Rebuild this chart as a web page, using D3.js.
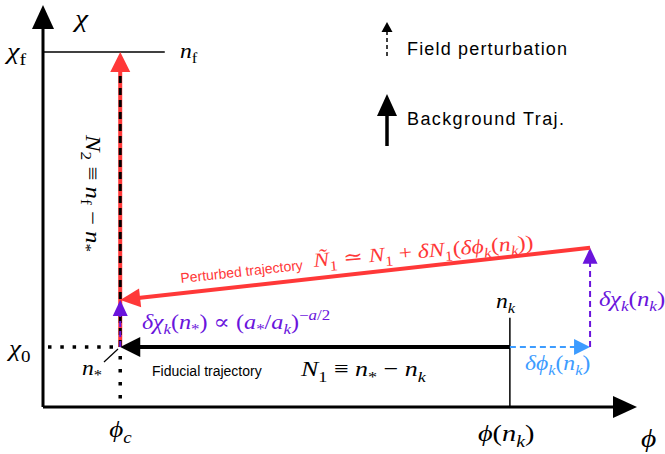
<!DOCTYPE html>
<html>
<head>
<meta charset="utf-8">
<script src="https://cdn.jsdelivr.net/npm/d3@7"></script>
<style>
body{margin:0;background:#fff}
svg{display:block}
</style>
</head>
<body>
<div class="canvas"></div>
<script>
const W = 665, H = 454;
const RED = "#ff3838", PURPLE = "#6a14dc", BLUE = "#3d9cff";

// abstract (phi, chi) coordinates of the diagram
const xTickVals = [1.3, 7.86];
const xTickLabels = ["ϕ_{c}", "ϕ(n_{k})"];
const yTickVals = [1.49, 8.83];
const yTickLabels = ["χ_{0}", "χ_{!f}"];
const fiducial = [[7.86, 1.49], [1.3, 1.49]];
const background = [[1.3, 1.49], [1.3, 8.83]];
const kickPhi = [[7.86, 1.49], [9.21, 1.49]];
const kickChi = [[9.21, 1.49], [9.21, 3.96]];
const kickStar = [[1.3, 1.49], [1.3, 2.66]];
const perturbed = [[9.21, 3.96], [1.3, 2.66]];
const nfLine = [[0, 8.83], [2.05, 8.83]];
const nkTick = [[7.86, 0], [7.86, 2.22]];

const x = d3.scaleLinear().domain([0, 10]).range([43, 637]);
const y = d3.scaleLinear().domain([0, 10]).range([407, 5]);

const svg = d3.select(".canvas").append("svg")
  .attr("width", W).attr("height", H);

const MATH = "'Liberation Serif','DejaVu Serif',serif";
const SANS = "'Liberation Sans',Arial,sans-serif";
const SX = 1.18; // widen Times to look like Computer Modern

// tiny tex-ish renderer: _{..} subscript, ^{..} superscript, letters italic, !c upright
function tex(g, str, px, py, fs, color, rot) {
  const chars = [];
  let i = 0, lv = 0, end = -1;
  while (i < str.length) {
    const c = str[i];
    if ((c === "_" || c === "^") && str[i + 1] === "{") {
      lv = c === "_" ? -1 : 1; end = str.indexOf("}", i); i += 2; continue;
    }
    if (i === end) { lv = 0; end = -1; i++; continue; }
    if (c === "!") { chars.push({ch: str[i + 1], lv, up: true}); i += 2; continue; }
    chars.push({ch: c, lv}); i++;
  }
  const runs = [];
  chars.forEach(c => {
    const it = !c.up && /[A-Za-zα-ωϕÑ]/.test(c.ch);
    const last = runs[runs.length - 1];
    if (last && last.lv === c.lv && last.it === it) last.t += c.ch;
    else runs.push({t: c.ch, lv: c.lv, it});
  });
  const t = g.append("text")
    .attr("transform", `translate(${px},${py})` + (rot ? ` rotate(${rot})` : "") + ` scale(${SX},1)`)
    .attr("font-family", MATH).attr("font-size", fs).attr("fill", color);
  let cur = 0;
  runs.forEach(r => {
    const target = r.lv === -1 ? fs * 0.25 : r.lv === 1 ? -fs * 0.42 : 0;
    t.append("tspan")
      .attr("dy", target - cur)
      .attr("font-size", r.lv ? fs * 0.7 : fs)
      .attr("font-style", r.it ? "italic" : "normal")
      .text(r.t);
    cur = target;
  });
  return t;
}

function seg(pts, color, w, dash) {
  return svg.append("line")
    .attr("x1", x(pts[0][0])).attr("y1", y(pts[0][1]))
    .attr("x2", x(pts[1][0])).attr("y2", y(pts[1][1]))
    .attr("stroke", color).attr("stroke-width", w)
    .attr("stroke-dasharray", dash || null);
}

// arrow: line from a to b, filled head at b
function arrow(pts, color, w, len, half, dash, gx) {
  const X = gx || (p => [x(p[0]), y(p[1])]);
  const [ax, ay] = X(pts[0]), [bx, by] = X(pts[1]);
  const dx = bx - ax, dy = by - ay, L = Math.hypot(dx, dy);
  const ux = dx / L, uy = dy / L;
  const cx = bx - ux * len, cy = by - uy * len;
  svg.append("line").attr("x1", ax).attr("y1", ay)
    .attr("x2", cx + ux * 2).attr("y2", cy + uy * 2)
    .attr("stroke", color).attr("stroke-width", w)
    .attr("stroke-dasharray", dash || null);
  svg.append("path")
    .attr("d", `M${bx},${by}L${cx - uy * half},${cy + ux * half}L${cx + uy * half},${cy - ux * half}Z`)
    .attr("fill", color);
}

// axes
arrow([[0, 0], [0, 10]], "#000", 3, 24, 11);
arrow([[0, 0], [10, 0]], "#000", 3, 24, 11);

// guide lines
seg(nfLine, "#000", 1.5);
seg(nkTick, "#000", 1.5);
svg.append("line").attr("x1", x(0) + 5).attr("y1", y(yTickVals[0]))
  .attr("x2", x(xTickVals[0])).attr("y2", y(yTickVals[0]))
  .attr("stroke", "#000").attr("stroke-width", 3.5).attr("stroke-dasharray", "3.5,8.8");
svg.append("line").attr("x1", x(xTickVals[0])).attr("y1", y(yTickVals[0]) + 9)
  .attr("x2", x(xTickVals[0])).attr("y2", y(0) - 2)
  .attr("stroke", "#000").attr("stroke-width", 3.5).attr("stroke-dasharray", "3.5,9.5");

// background trajectory (red with black dashes)
arrow(background, RED, 4, 20, 10);
svg.append("line")
  .attr("x1", x(background[0][0])).attr("y1", y(background[0][1]))
  .attr("x2", x(background[1][0])).attr("y2", y(background[1][1]) + 20)
  .attr("stroke", "#000").attr("stroke-width", 3).attr("stroke-dasharray", "7,5");

// fiducial
arrow(fiducial, "#000", 4, 20, 10);
// perturbations
arrow(kickPhi, BLUE, 2, 16, 8, "6,4");
arrow(kickChi, PURPLE, 2, 16, 7.5, "6,4");
arrow(kickStar, PURPLE, 2, 16, 7.5, "6,4");
// perturbed trajectory
arrow(perturbed, RED, 4, 20, 9.5);

// n_* pointer
svg.append("line").attr("x1", 104).attr("y1", 362).attr("x2", 118).attr("y2", 349)
  .attr("stroke", "#000").attr("stroke-width", 1.2);

// legend
const lg = p => p;
arrow([[387, 56], [387, 22]], "#000", 1.5, 10, 5.5, "4,3", lg);
arrow([[387, 146], [387, 94]], "#000", 3.5, 22, 10, null, lg);
svg.append("text").attr("x", 407).attr("y", 55).attr("font-family", SANS)
  .attr("font-size", 18).attr("textLength", 160).text("Field perturbation");
svg.append("text").attr("x", 407).attr("y", 125).attr("font-family", SANS)
  .attr("font-size", 18).attr("textLength", 157).text("Background Traj.");

// axis labels
tex(svg, "χ", 75, 27, 25, "#000");
tex(svg, "ϕ", 641, 447, 25, "#000");
tex(svg, yTickLabels[1], 7, 59, 24, "#000");
tex(svg, yTickLabels[0], 9, 356, 23, "#000");
tex(svg, xTickLabels[0], x(xTickVals[0]) - 11, 437, 23, "#000");
tex(svg, xTickLabels[1], x(xTickVals[1]) - 32, 441, 24, "#000");
tex(svg, "n_{!f}", 180, 58, 20, "#000");
tex(svg, "n_{k}", x(xTickVals[1]) - 14, 308, 20, "#000");
tex(svg, "n_{*}", 82, 375, 20, "#000");

// annotations
svg.append("text").attr("x", 152).attr("y", 376).attr("font-family", SANS)
  .attr("font-size", 14).text("Fiducial trajectory");
tex(svg, "N_{1} ≡ n_{*} − n_{k}", 301, 376, 22, "#000");
tex(svg, "δϕ_{k}(n_{k})", 525, 370, 20, BLUE);
tex(svg, "δχ_{k}(n_{k})", 599, 306, 21, PURPLE);
tex(svg, "δχ_{k}(n_{*}) ∝ (a_{*}/a_{k})^{−a/2}", 142, 329, 20.5, PURPLE);
tex(svg, "N_{2} ≡ n_{!f} − n_{*}", 86, 135, 21, "#000", 90);
svg.append("text").attr("transform", "translate(181,283) rotate(-6.2)")
  .attr("font-family", SANS).attr("font-size", 14).attr("fill", RED)
  .text("Perturbed trajectory");
tex(svg, "Ñ_{1} ≃ N_{1} + δN_{1}(δϕ_{k}(n_{k}))", 314, 267, 20, RED, -4.8);
</script>
</body>
</html>
